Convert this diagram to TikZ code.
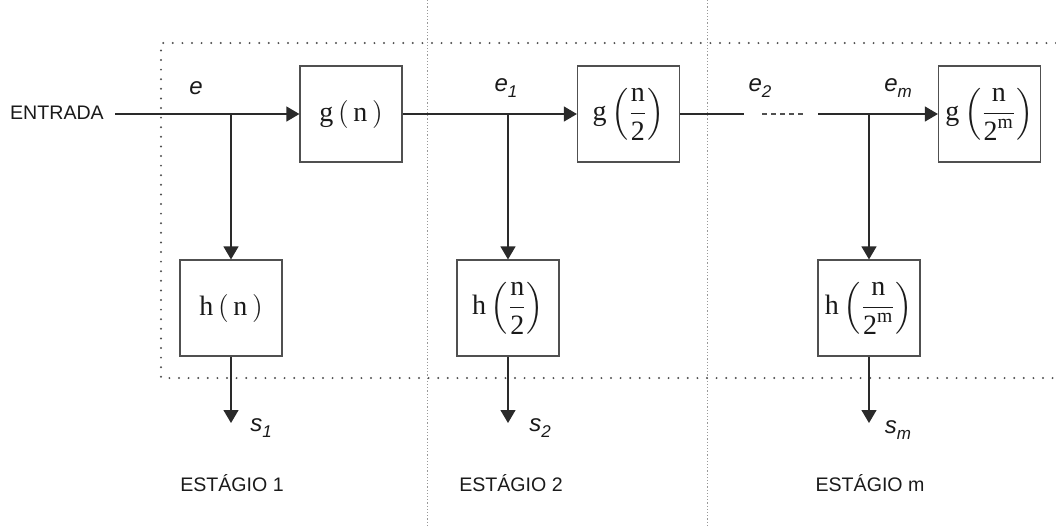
\RequirePackage{fix-cm}
\documentclass[tikz,border=0pt]{standalone}
\usepackage{amsmath}
\usepackage{fontspec}
\setsansfont{Liberation Sans}
\newfontfamily\serifrm{Liberation Serif}
\usetikzlibrary{arrows.meta}

\definecolor{ink}{HTML}{1A1A1A}
\definecolor{linec}{HTML}{2A2A2A}
\definecolor{boxc}{HTML}{505050}
\definecolor{sepc}{HTML}{999999}

\newcommand\rmt[1]{\text{\serifrm #1}}
\newcommand\lbl[2]{\itshape #1\raisebox{-0.45ex}{\fontsize{8.5}{9}\selectfont #2}}

\tikzset{
  block/.style={draw=boxc, line width=0.6pt, fill=white, minimum width=51pt,
    minimum height=48pt, inner sep=0pt, text=ink, font=\fontsize{14}{16}\selectfont},
  wire/.style={draw=linec, line width=0.6pt},
  flow/.style={wire, -{Triangle[length=6.5pt,width=7.5pt]}},
  sepline/.style={draw=sepc, line width=0.45pt, dash pattern=on 0.6pt off 1pt},
  frame/.style={draw=boxc, line width=1.1pt, line cap=round, dash pattern=on 0pt off 4.8pt},
  sig/.style={font=\sffamily\fontsize{12}{14}\selectfont, text=ink, inner sep=0pt},
  caption/.style={font=\sffamily\fontsize{9.8}{11}\selectfont, text=ink, inner sep=0pt},
}

\begin{document}
\begin{tikzpicture}[x=0.5pt,y=-0.5pt]
\useasboundingbox (0,0) rectangle (1056,527);

% stage separators
\draw[sepline] (427,0) -- (427,527);
\draw[sepline] (707,0) -- (707,527);

% dotted enclosure, open on the right
\draw[frame] (1056,43) -- (161,43) -- (161,378) -- (1056,378);

% input
\node[caption] (in) at (57,113) {ENTRADA};
\coordinate (start) at (115,114);

% blocks
\node[block] (gn)  at (351,114)   {$\rmt{g}\,(\,\rmt{n}\,)$};
\node[block] (gn2) at (628.5,114) {$\rmt{g}\left(\dfrac{\rmt{n}}{\rmt{2}}\right)$};
\node[block] (gnm) at (989.5,114) {$\rmt{g}\left(\dfrac{\rmt{n}}{\rmt{2}^{\rmt{m}}}\right)$};
\node[block] (hn)  at (231,308)   {$\rmt{h}\,(\,\rmt{n}\,)$};
\node[block] (hn2) at (508,308)   {$\rmt{h}\left(\dfrac{\rmt{n}}{\rmt{2}}\right)$};
\node[block] (hnm) at (869,308)   {$\rmt{h}\left(\dfrac{\rmt{n}}{\rmt{2}^{\rmt{m}}}\right)$};

% branch points and outputs
\coordinate (b1) at (hn.north |- start);
\coordinate (b2) at (hn2.north |- start);
\coordinate (b3) at (hnm.north |- start);
\coordinate (o1) at (231,423);
\coordinate (o2) at (508,423);
\coordinate (o3) at (869,423);

% gap in the chain between stage 2 and stage m
\coordinate (c1) at (744,114);
\coordinate (c2) at (762,114);
\coordinate (c3) at (805,114);
\coordinate (c4) at (818,114);

% connectors
\draw[flow] (start) -- (gn.west);
\draw[flow] (b1) -- (hn.north);
\draw[flow] (hn.south) -- (o1);
\draw[flow] (gn.east) -- (gn2.west);
\draw[flow] (b2) -- (hn2.north);
\draw[flow] (hn2.south) -- (o2);
\draw[wire] (gn2.east) -- (c1);
\draw[wire, draw=boxc, dash pattern=on 2.5pt off 2pt] (c2) -- (c3);
\draw[flow] (c4) -- (gnm.west);
\draw[flow] (b3) -- (hnm.north);
\draw[flow] (hnm.south) -- (o3);

% signal labels
\node[sig] (le)  at (196,88) {\itshape e};
\node[sig] (le1) at (506,88) {\lbl{e}{1}};
\node[sig] (le2) at (760,88) {\lbl{e}{2}};
\node[sig] (lem) at (898,88) {\lbl{e}{m}};
\node[sig] (ls1) at (261,428) {\lbl{s}{1}};
\node[sig] (ls2) at (540,428) {\lbl{s}{2}};
\node[sig] (lsm) at (898,430) {\lbl{s}{m}};

% stage captions
\node[caption] (st1) at (232,483) {ESTÁGIO 1};
\node[caption] (st2) at (511,483) {ESTÁGIO 2};
\node[caption] (stm) at (870,483) {ESTÁGIO m};
\end{tikzpicture}
\end{document}
